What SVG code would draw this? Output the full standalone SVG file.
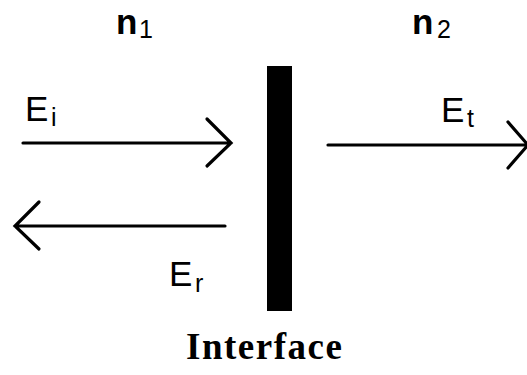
<svg xmlns="http://www.w3.org/2000/svg" width="527" height="375" viewBox="0 0 527 375">
<style>
.ln{stroke:#000;stroke-width:3.2;fill:none;stroke-linecap:round;stroke-linejoin:miter}
.lbl{font-family:"Liberation Sans",Arial,sans-serif;fill:#000;font-size:35px}
.sub{font-family:"Liberation Sans",Arial,sans-serif;fill:#000;font-size:25px}
.n{font-family:"Liberation Sans",Arial,sans-serif;font-weight:bold;font-size:35px;fill:#000}
</style>
<rect width="527" height="375" fill="#fff"/>
<g id="n1"><text class="n" x="116" y="34">n</text><text class="sub" x="139" y="38">1</text></g>
<g id="n2"><text class="n" x="412" y="34">n</text><text class="sub" x="437" y="38">2</text></g>
<g id="interface">
<rect x="267" y="66" width="25" height="245" fill="#000"/>
<text x="264" y="359" text-anchor="middle" font-family="'Liberation Serif','Times New Roman',serif" font-weight="bold" font-size="37" textLength="156" lengthAdjust="spacing">Interface</text>
</g>
<g id="Ei"><text class="lbl" x="25" y="121">E</text><text class="sub" x="51" y="126">i</text></g>
<g id="Et"><text class="lbl" x="441" y="122">E</text><text class="sub" x="467" y="127">t</text></g>
<g id="Er"><text class="lbl" x="169" y="286">E</text><text class="sub" x="195" y="292">r</text></g>
<g id="connectors">
<path class="ln" d="M23 143H231M207 119L231 143L207 166"/>
<path class="ln" d="M328 145H528M508 122L528 145L508 168"/>
<path class="ln" d="M225 226H15M39 202L15 226L39 249"/>
</g>
</svg>
